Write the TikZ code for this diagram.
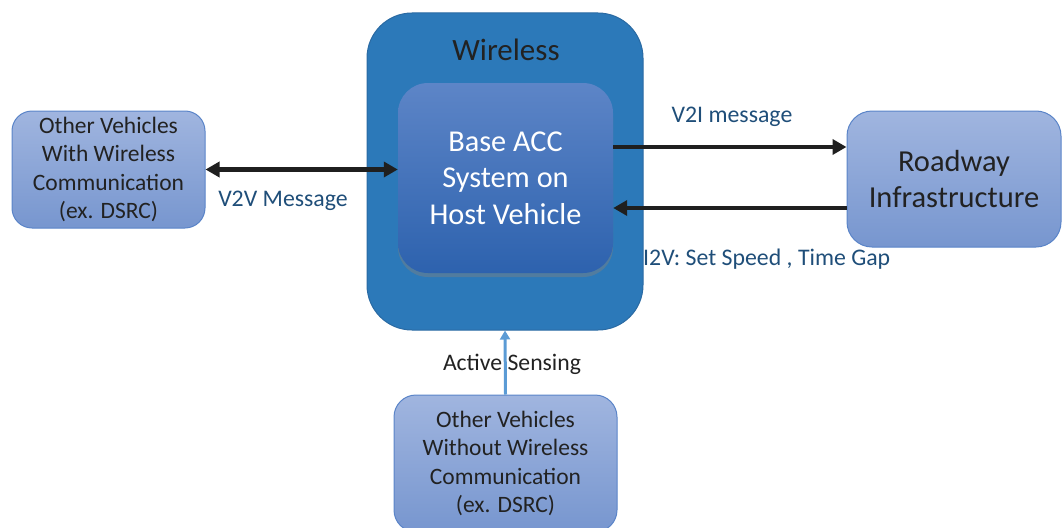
\documentclass[tikz,border=0pt]{standalone}
\usepackage{fontspec}
\setmainfont{Carlito}
\usetikzlibrary{arrows.meta,shadows}
\definecolor{outerblue}{HTML}{2C79B9}
\definecolor{outerborder}{HTML}{2A6AA3}
\definecolor{innertop}{HTML}{5D85C7}
\definecolor{innerbot}{HTML}{2D62AE}
\definecolor{sidetop}{HTML}{A0B5DF}
\definecolor{sidebot}{HTML}{7796CF}
\definecolor{sideborder}{HTML}{5A84C8}
\definecolor{labelblue}{HTML}{1F4E79}
\definecolor{sensblue}{HTML}{5B9BD5}
\definecolor{txt}{HTML}{222222}
\tikzset{
  sidebox/.style={draw=sideborder, line width=1pt, top color=sidetop, bottom color=sidebot,
    inner sep=0pt, align=center, text=txt},
  msg/.style={text=labelblue, font=\fontsize{23.8}{27}\selectfont, inner sep=0pt},
  fat/.style={line width=4.5pt, draw=black!88, >={Triangle[length=14pt,width=15pt]}},
  sensline/.style={line width=3pt, draw=sensblue, >={Triangle[length=9pt,width=10pt]}}
}
\begin{document}
\begin{tikzpicture}[x=1pt,y=-1pt]
\useasboundingbox (0,0) rectangle (1062,527);
\node[draw=outerborder, line width=1pt, fill=outerblue, rounded corners=45pt,
  minimum width=276pt, minimum height=317pt, inner sep=0pt] (outer) at (505,171.5) {};
\node[text=txt, font=\fontsize{31}{34}\selectfont, inner sep=0pt] (wl) at (506,50) {Wireless};
\node[top color=innertop, bottom color=innerbot, rounded corners=30pt,
  drop shadow={opacity=0.45, shadow xshift=0pt, shadow yshift=-4pt},
  minimum width=215pt, minimum height=190pt, inner sep=0pt, align=center,
  text=white, font=\fontsize{30.3}{36.5}\selectfont] (inner) at (505.5,178)
  {Base ACC\\System on\\Host Vehicle};
\node[sidebox, rounded corners=20pt, minimum width=193pt, minimum height=117pt,
  font=\fontsize{23.5}{28.5}\selectfont] (left) at (108.5,169.5)
  {Other Vehicles\\With Wireless\\Communication\\(ex. DSRC)};
\node[sidebox, rounded corners=25pt, minimum width=214pt, minimum height=136pt,
  font=\fontsize{30.5}{36}\selectfont] (road) at (954,179)
  {Roadway\\Infrastructure};
\node[sidebox, rounded corners=22pt, minimum width=223pt, minimum height=137pt,
  font=\fontsize{23.5}{28.5}\selectfont] (bottom) at (505.5,463.5)
  {Other Vehicles\\Without Wireless\\Communication\\(ex. DSRC)};
% connectors
\draw[fat, <->] (left.east) -- (left.east -| inner.west);
\coordinate (v2ia) at ([yshift=31pt]inner.east);
\coordinate (i2va) at ([yshift=-30pt]inner.east);
\draw[fat, ->] (v2ia) -- (v2ia -| road.west);
\draw[fat, ->] (i2va -| road.west) -- (i2va);
\draw[sensline, ->] (bottom.north) -- (outer.south);
% labels
\node[msg] (v2vl) at (283,201) {V2V Message};
\node[msg] (v2il) at (732,117) {V2I message};
\node[msg, anchor=west] (i2vl) at (643,259) {I2V: Set Speed , Time Gap};
\node[text=txt, font=\fontsize{23.7}{27}\selectfont, inner sep=0pt] (asl) at (512,364) {Active Sensing};
\end{tikzpicture}
\end{document}
